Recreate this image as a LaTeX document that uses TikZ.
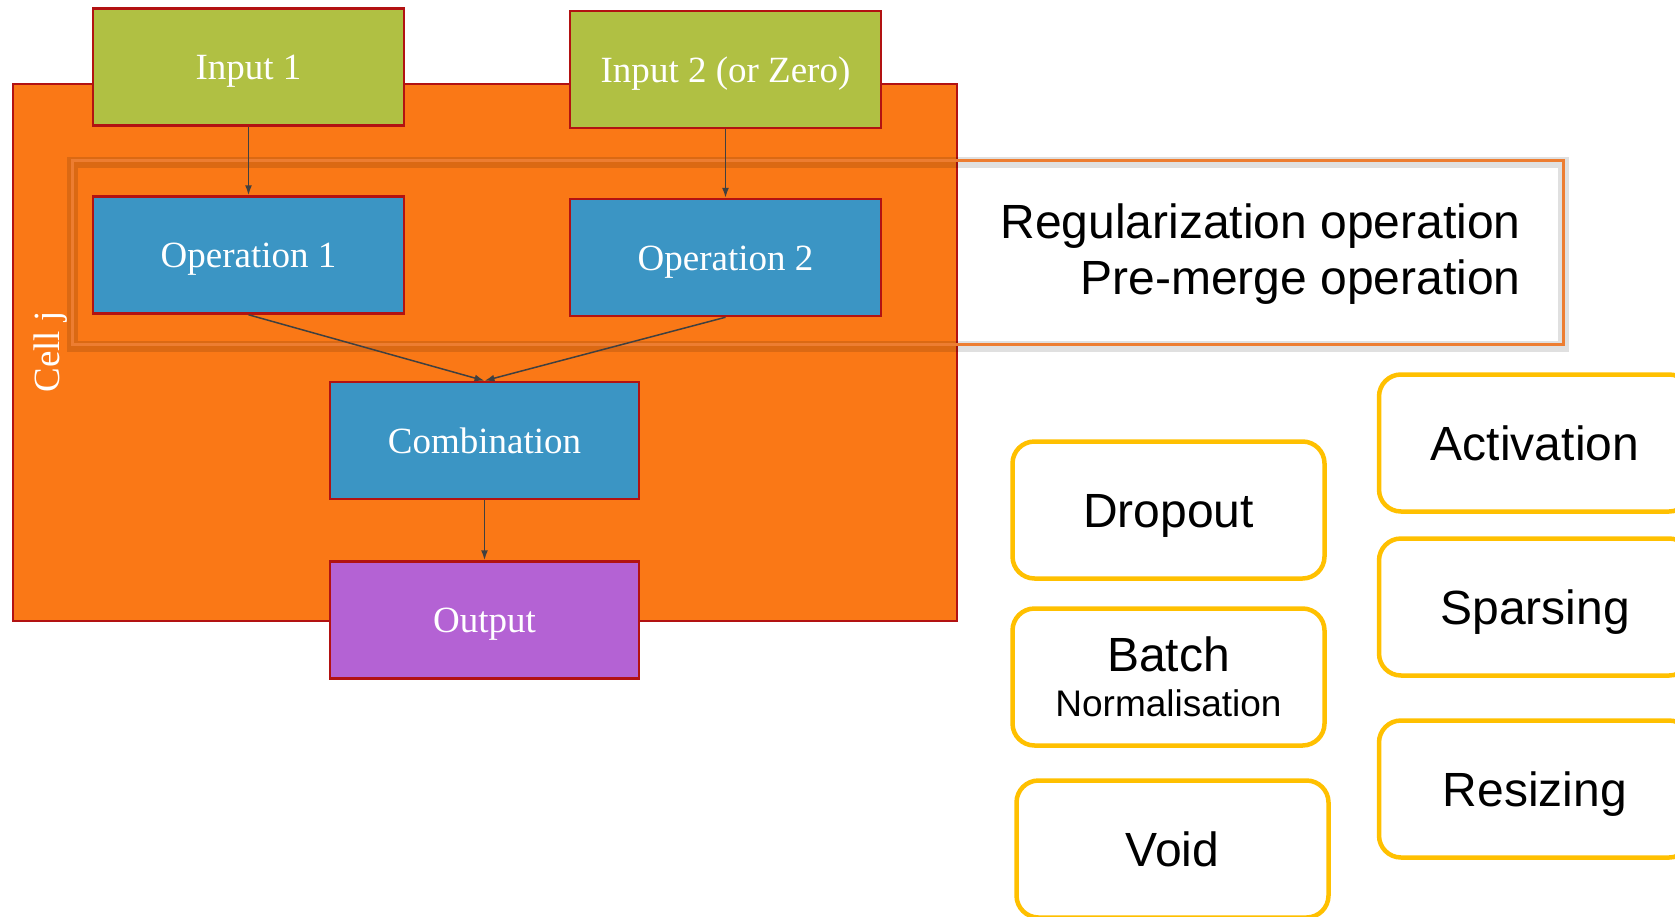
\documentclass[tikz,border=0pt]{standalone}
\usepackage{fontspec}
\setmainfont{Liberation Serif}
\newfontfamily\arialfont{Liberation Sans}
\usetikzlibrary{arrows.meta}

\definecolor{cellorange}{RGB}{250,120,22}
\definecolor{boxred}{RGB}{178,18,18}
\definecolor{ingreen}{RGB}{176,192,67}
\definecolor{opblue}{RGB}{59,149,196}
\definecolor{outpurple}{RGB}{180,98,212}
\definecolor{regorange}{RGB}{237,125,49}
\definecolor{choicegold}{RGB}{255,192,0}
\definecolor{arrowgray}{RGB}{64,64,64}

\begin{document}
\begin{tikzpicture}
			[x=1pt,y=-1pt,
			every node/.style={rectangle, draw=boxred, line width=2.5pt,
			text=white, inner sep=0pt,
			font=\fontsize{37}{40}\selectfont},
			block/.style={minimum width=311pt, minimum height=117pt,
			text height=25pt, text depth=0pt},
			choice/.style={draw=choicegold, line width=4.5pt, fill=white,
			rounded corners=22pt, text=black,
			minimum width=312pt, minimum height=137pt,
			text height=35pt, text depth=0pt,
			font=\arialfont\fontsize{48}{52}\selectfont},
			link/.style={draw=arrowgray, line width=1.5pt,
			-{Latex[length=10pt,width=7pt]}}]
			\useasboundingbox (0,0) rectangle (1675,916);
			\clip (0,0) rectangle (1675,916);

			%%cell
			\node [fill=cellorange, line width=2pt, minimum width=944pt,
				minimum height=537pt] (cell) at (485,352) {};
			\node [draw=none, rotate=90, text height=25pt, text depth=0pt]
				(cellj) at (47,352) {Cell j};

			%%regularization / pre-merge
			\node [draw=regorange, line width=3pt, minimum width=1491pt,
				minimum height=184pt,
				preaction={draw=black, opacity=.12, line width=11pt,
				transform canvas={yshift=-2pt}}]
				(regbox) at (818,252) {};
			\node [draw=none, anchor=east, align=right, text=black,
				font=\arialfont\fontsize{48}{56}\selectfont]
				(regtext) at (1522,254)
				{Regularization operation\\Pre-merge operation};

			\node [block, fill=ingreen] (in1) at (248.5,67)  {Input 1};
			\node [block, fill=ingreen] (in2) at (725.5,69.5) {Input 2 (or Zero)};

			\node [block, fill=opblue] (op1) at (248.5,255)  {Operation 1};
			\node [block, fill=opblue] (op2) at (725.5,257.5) {Operation 2};

			\node [block, fill=opblue, minimum width=309pt] (comb) at (484.5,440.5) {Combination};
			\node [block, fill=outpurple, minimum width=309pt] (out) at (484.5,620) {Output};

			%%choices
			\node [choice] (drop) at (1168.5,510) {Dropout};
			\node [choice, align=center, text height=, text depth=,
				font=\arialfont\fontsize{37}{45}\selectfont]
				(batch) at (1168.5,677)
				{{\fontsize{48}{48}\selectfont Batch}\\Normalisation};
			\node [choice] (void) at (1172.5,849) {Void};

			\node [choice] (act) at (1535,443) {Activation};
			\node [choice] (spars) at (1535,607) {Sparsing};
			\node [choice] (resz) at (1535,789) {Resizing};

			\foreach \from/\to in {in1/op1,in2/op2,op1/comb,op2/comb,comb/out}
			\draw[link] (\from.south) -- (\to.north);
		\end{tikzpicture}
\end{document}
